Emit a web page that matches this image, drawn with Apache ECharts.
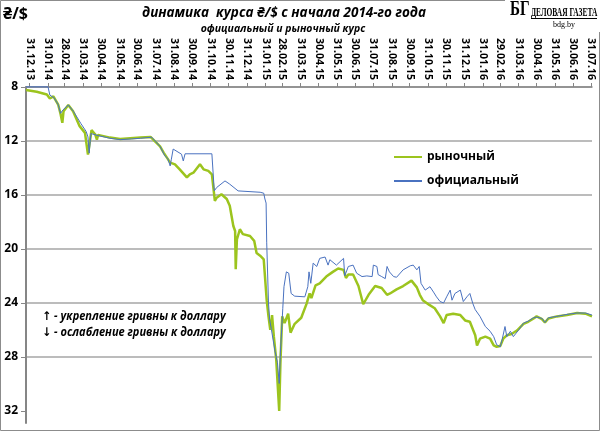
<!DOCTYPE html>
<html><head><meta charset="utf-8">
<script src="https://cdn.jsdelivr.net/npm/echarts@6/dist/echarts.min.js"></script>
<style>html,body{margin:0;padding:0;background:#fff}#c{width:600px;height:431px}</style>
</head><body><div id="c"></div>
<script>
const tickLabels = ['31.12.13','31.01.14','28.02.14','31.03.14','30.04.14','31.05.14','30.06.14','31.07.14','31.08.14','30.09.14','31.10.14','30.11.14','31.12.14','31.01.15','28.02.15','31.03.15','30.04.15','31.05.15','30.06.15','31.07.15','31.08.15','30.09.15','31.10.15','30.11.15','31.12.15','31.01.16','29.02.16','31.03.16','30.04.16','31.05.16','30.06.16','31.07.16'];
const yTickValues = [8, 12, 16, 20, 24, 28, 32];

const marketDates = ['2013-12-25','2014-01-12','2014-01-29','2014-02-03','2014-02-09','2014-02-17','2014-02-21','2014-02-24','2014-02-26','2014-03-06','2014-03-14','2014-03-25','2014-04-03','2014-04-08','2014-04-14','2014-04-20','2014-04-22','2014-04-23','2014-04-25','2014-05-15','2014-06-01','2014-06-18','2014-07-05','2014-07-22','2014-07-25','2014-08-07','2014-08-13','2014-08-24','2014-09-01','2014-09-09','2014-09-21','2014-09-26','2014-10-02','2014-10-13','2014-10-19','2014-10-27','2014-11-02','2014-11-07','2014-11-10','2014-11-18','2014-11-27','2014-12-02','2014-12-08','2014-12-11','2014-12-12','2014-12-14','2014-12-19','2014-12-24','2015-01-05','2015-01-12','2015-01-16','2015-01-22','2015-01-28','2015-01-30','2015-02-02','2015-02-05','2015-02-08','2015-02-11','2015-02-14','2015-02-18','2015-02-23','2015-02-25','2015-02-28','2015-03-04','2015-03-10','2015-03-14','2015-03-21','2015-04-01','2015-04-10','2015-04-15','2015-04-18','2015-04-25','2015-05-02','2015-05-13','2015-05-24','2015-06-02','2015-06-11','2015-06-15','2015-06-19','2015-06-27','2015-07-06','2015-07-14','2015-07-23','2015-08-03','2015-08-14','2015-08-23','2015-08-28','2015-09-08','2015-09-19','2015-10-03','2015-10-12','2015-10-17','2015-10-22','2015-11-02','2015-11-11','2015-11-20','2015-11-26','2015-12-01','2015-12-12','2015-12-24','2016-01-01','2016-01-09','2016-01-18','2016-01-21','2016-01-26','2016-02-04','2016-02-12','2016-02-18','2016-02-23','2016-02-29','2016-03-05','2016-03-11','2016-03-19','2016-03-28','2016-04-08','2016-04-16','2016-04-25','2016-04-30','2016-05-09','2016-05-14','2016-05-20','2016-06-03','2016-06-20','2016-07-07','2016-07-21','2016-08-01'];
const marketRates = [8.22,8.35,8.55,8.85,8.7,9.3,10.0,10.65,9.8,9.33,9.8,10.9,11.4,13.0,11.2,11.5,11.45,11.9,11.55,11.75,11.85,11.8,11.75,11.7,11.75,12.4,12.86,13.6,13.73,14.1,14.7,14.47,14.35,13.73,14.1,14.22,14.47,16.44,16.2,15.95,16.3,16.8,18.3,18.67,21.5,19.3,18.54,18.9,19.04,19.4,20.3,20.5,20.77,20.9,23.8,25.0,26.0,24.9,26.5,28.2,32.0,28.5,25.0,25.5,24.8,26.2,25.55,25.1,24.05,23.3,23.65,22.7,22.55,22.05,21.7,21.45,21.55,22.15,21.9,21.9,22.75,24.1,23.4,22.75,22.9,23.4,23.3,23.0,22.75,22.35,22.85,23.4,23.8,24.15,24.4,25.0,25.5,24.9,24.8,24.9,25.3,25.4,26.4,27.15,26.65,26.5,26.65,27.15,27.25,27.2,26.65,26.4,26.3,26.05,25.55,25.4,25.15,25.0,25.2,25.45,25.15,25.0,24.9,24.75,24.8,25.0];

const officialDates = ['2013-12-25','2014-01-31','2014-02-03','2014-02-10','2014-02-17','2014-02-21','2014-02-25','2014-03-06','2014-03-15','2014-03-27','2014-04-05','2014-04-08','2014-04-10','2014-04-13','2014-04-25','2014-05-15','2014-06-01','2014-06-20','2014-07-05','2014-07-24','2014-08-07','2014-08-15','2014-08-20','2014-08-24','2014-08-26','2014-08-29','2014-09-01','2014-09-12','2014-09-15','2014-09-18','2014-11-02','2014-11-06','2014-11-10','2014-11-24','2014-12-02','2014-12-16','2014-12-19','2015-01-22','2015-01-28','2015-01-30','2015-02-01','2015-02-02','2015-02-05','2015-02-07','2015-02-10','2015-02-16','2015-02-20','2015-02-23','2015-02-25','2015-03-01','2015-03-03','2015-03-07','2015-03-11','2015-03-15','2015-03-21','2015-04-07','2015-04-12','2015-04-14','2015-04-17','2015-04-21','2015-04-27','2015-05-02','2015-05-11','2015-05-16','2015-05-19','2015-05-30','2015-06-11','2015-06-13','2015-06-19','2015-06-27','2015-07-03','2015-07-12','2015-07-20','2015-07-29','2015-07-31','2015-08-06','2015-08-08','2015-08-14','2015-08-20','2015-08-23','2015-08-27','2015-09-03','2015-09-08','2015-09-19','2015-10-01','2015-10-06','2015-10-12','2015-10-16','2015-10-19','2015-10-26','2015-11-03','2015-11-09','2015-11-14','2015-11-20','2015-11-26','2015-12-01','2015-12-07','2015-12-10','2015-12-15','2015-12-24','2015-12-29','2016-01-04','2016-01-09','2016-01-14','2016-01-18','2016-01-26','2016-02-04','2016-02-12','2016-02-18','2016-02-23','2016-02-29','2016-03-03','2016-03-08','2016-03-11','2016-03-17','2016-03-22','2016-03-31','2016-04-08','2016-04-16','2016-04-25','2016-04-30','2016-05-09','2016-05-14','2016-05-20','2016-06-03','2016-06-20','2016-07-07','2016-07-21','2016-08-01'];
const officialRates = [7.99,7.99,8.6,8.8,9.3,9.95,9.7,9.33,9.83,10.7,11.3,11.7,12.9,11.45,11.6,11.8,11.9,11.85,11.8,11.72,12.4,13.1,13.3,13.85,13.35,12.6,12.7,12.98,13.48,12.95,12.95,15.7,15.45,14.96,15.2,15.7,15.8,15.8,15.87,16.3,16.6,19.5,24.0,25.25,26.0,27.6,28.4,29.97,27.7,24.4,22.8,21.7,21.8,23.3,23.5,23.55,22.8,21.7,22.55,21.05,21.3,20.7,20.6,21.2,20.8,21.2,20.7,22.0,21.3,21.2,21.8,22.05,22.0,22.05,21.2,21.3,21.9,22.05,22.2,21.3,21.7,22.05,22.1,21.55,21.25,21.2,21.55,21.3,22.55,23.05,22.8,23.2,23.55,23.9,24.0,23.55,23.05,23.8,23.3,23.05,23.9,23.55,23.3,24.05,24.5,25.0,25.75,26.1,26.5,27.1,27.25,26.75,25.75,26.5,26.1,26.5,26.0,25.5,25.35,25.1,25.05,25.15,25.45,25.1,25.0,24.85,24.75,24.75,24.9];

function ts(s){ const p = s.split('-'); return Date.UTC(+p[0], +p[1]-1, +p[2]); }
function tickTs(s){ const p = s.split('.'); return Date.UTC(2000 + (+p[2]), +p[1]-1, +p[0]); }
const tickValues = tickLabels.map(tickTs);
const marketData = marketDates.map((d, i) => [ts(d), marketRates[i]]);
const officialData = officialDates.map((d, i) => [ts(d), officialRates[i]]);

const chart = echarts.init(document.getElementById('c'), null, {renderer: 'canvas'});
const titleFont = '"Open Sans", "Noto Sans", "DejaVu Sans", sans-serif';
const serifFont = '"Liberation Serif", "DejaVu Serif", serif';
chart.setOption({
  animation: false,
  backgroundColor: '#fff',
  grid: {left: 26, right: 8, top: 87, bottom: 8},
  xAxis: {
    type: 'value', position: 'top', scale: true,
    min: ts('2013-12-25'), max: ts('2016-08-01'),
    axisLine: {onZero: false, lineStyle: {color: '#868686', width: 1.5}},
    axisTick: {show: true, customValues: tickValues, length: 4, inside: false, lineStyle: {color: '#868686'}},
    axisLabel: {
      customValues: tickValues, rotate: 90, margin: 7, hideOverlap: false,
      formatter: function (v) { const i = tickValues.indexOf(v); return i >= 0 ? tickLabels[i] : ''; },
      fontFamily: titleFont, fontWeight: 'bold', fontSize: 10.5, color: '#000'
    },
    splitLine: {show: false}
  },
  yAxis: {
    type: 'value', inverse: true, min: 8, max: 32.9, interval: 4,
    axisLine: {show: true, lineStyle: {color: '#868686', width: 2}},
    axisTick: {show: true, customValues: yTickValues, length: 5, lineStyle: {color: '#868686'}},
    axisLabel: {customValues: yTickValues, margin: 8, fontFamily: titleFont, fontWeight: 'bold', fontSize: 12, color: '#000'},
    splitLine: {show: true, showMaxLine: false, lineStyle: {color: '#a6a6a6', width: 1.5}}
  },
  legend: {
    orient: 'vertical', left: 389, top: 146, itemWidth: 28, itemHeight: 2, itemGap: 12, icon: 'rect',
    data: ['рыночный', 'официальный'],
    textStyle: {fontFamily: titleFont, fontWeight: 'bold', fontSize: 12, color: '#000'}
  },
  series: [
    {name: 'рыночный', type: 'line', data: marketData, showSymbol: false, color: '#9cc41e',
      lineStyle: {color: '#9cc41e', width: 2.5}},
    {name: 'официальный', type: 'line', data: officialData, showSymbol: false, clip: false, z: 5, color: '#4a72c0',
      lineStyle: {color: '#4a72c0', width: 1}}
  ],
  graphic: [
    {type: 'rect', shape: {x: 0.5, y: 0.5, width: 599, height: 430}, style: {fill: 'none', stroke: '#8c8c8c', lineWidth: 1}, silent: true, z: 0},
    {type: 'text', x: 3, y: 14, style: {text: '₴/$', font: 'bold 16px ' + titleFont, fill: '#000', textVerticalAlign: 'middle', verticalAlign: 'middle'}},
    {type: 'text', x: 284, y: 13, scaleX: 0.9, style: {text: 'динамика  курса ₴/$ с начала 2014-го года', font: 'italic bold 15px ' + titleFont, fill: '#000', textAlign: 'center', align: 'center', textVerticalAlign: 'middle', verticalAlign: 'middle'}},
    {type: 'text', x: 283, y: 29, scaleX: 0.95, style: {text: 'официальный и рыночный курс', font: 'italic bold 11px ' + titleFont, fill: '#000', textAlign: 'center', align: 'center', textVerticalAlign: 'middle', verticalAlign: 'middle'}},
    {type: 'rect', shape: {x: 505, y: 0, width: 95, height: 32}, style: {fill: '#fff'}, z: 1},
    {type: 'text', x: 510, y: 10, scaleX: 0.72, style: {text: 'БГ', font: 'bold 21px ' + serifFont, fill: '#000', textVerticalAlign: 'middle', verticalAlign: 'middle'}, z: 2},
    {type: 'text', x: 531, y: 13, scaleX: 0.62, style: {text: 'ДЕЛОВАЯ ГАЗЕТА', font: 'bold 12px ' + serifFont, fill: '#000', textVerticalAlign: 'middle', verticalAlign: 'middle'}, z: 2},
    {type: 'line', shape: {x1: 531, y1: 18.5, x2: 597, y2: 18.5}, style: {stroke: '#000', lineWidth: 1}, z: 2},
    {type: 'text', x: 553, y: 24.5, style: {text: 'bdg.by', font: '8px ' + serifFont, fill: '#000', textVerticalAlign: 'middle', verticalAlign: 'middle'}, z: 2},
    {type: 'text', x: 42, y: 317, scaleX: 0.92, style: {text: '↑ - укрепление гривны к доллару', font: 'italic bold 12px ' + titleFont, fill: '#000', textVerticalAlign: 'middle', verticalAlign: 'middle'}},
    {type: 'text', x: 42, y: 333, scaleX: 0.92, style: {text: '↓ - ослабление гривны к доллару', font: 'italic bold 12px ' + titleFont, fill: '#000', textVerticalAlign: 'middle', verticalAlign: 'middle'}}
  ]
});
</script>
</body></html>
